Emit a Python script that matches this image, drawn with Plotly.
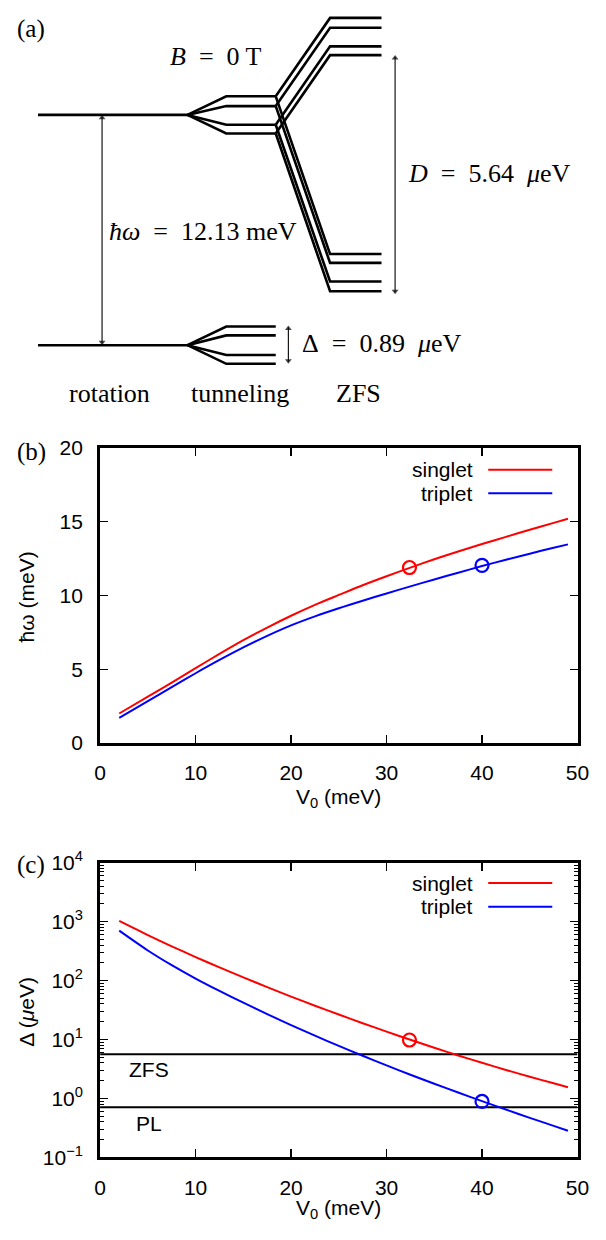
import plotly.graph_objects as go

W, H = 606, 1240

# ---------------- data ----------------
V0 = [2, 5, 7.5, 10, 12.5, 15, 17.5, 20, 22.5, 25, 27.5, 30, 32.5, 35, 37.5, 40, 42.5, 45, 47.5, 49]
singlet_hw = [2.0, 3.14, 4.10, 5.08, 6.04, 6.97, 7.83, 8.63, 9.37, 10.04, 10.70, 11.31, 11.89, 12.46,
              12.99, 13.49, 13.98, 14.46, 14.93, 15.21]
triplet_hw = [1.7, 2.84, 3.79, 4.73, 5.63, 6.48, 7.27, 7.98, 8.59, 9.14, 9.65, 10.14, 10.62, 11.09,
              11.55, 12.0, 12.43, 12.84, 13.24, 13.47]
singlet_delta = [1023, 589, 380, 250, 167, 113, 77.2, 53.4, 37.4, 26.5, 18.9, 13.6, 9.89, 7.24,
                 5.37, 4.03, 3.05, 2.34, 1.81, 1.55]
triplet_delta = [700, 323, 182, 108, 66.7, 42.1, 27.0, 17.5, 11.6, 7.78, 5.30, 3.64, 2.53, 1.78,
                 1.26, 0.90, 0.649, 0.470, 0.343, 0.284]

singlet_pt_V0, singlet_pt_hw, singlet_pt_delta = 32.4, 11.9, 9.8
triplet_pt_V0, triplet_pt_hw, triplet_pt_delta = 40.0, 12.05, 0.89

zfs_level = 5.64
pl_level = 0.71

y_ticks_log = [0.1, 1, 10, 100, 1000, 10000]
y_ticktext_log = ["10<sup>−1</sup>", "10<sup>0</sup>", "10<sup>1</sup>", "10<sup>2</sup>",
                  "10<sup>3</sup>", "10<sup>4</sup>"]

# panel (a) schematic level positions (pixel units of the hidden axis)
rot_x = [33, 187]
rot_levels = [103, 338]
tun_x = [227, 278]
tun_upper = [84, 94, 113, 122]
tun_lower = [319, 328, 348, 357]
zfs_x = [334, 387]
zfs_up = [4, 14, 33, 42]
zfs_down = [245, 254, 273, 283]

RED = "#ff0000"
BLUE = "#0000ff"
SANS = "Liberation Sans"
SERIF = "Liberation Serif"
SP = "\u2002"


def px(x):
    return x / W


def py(y):
    return 1 - y / H


fig = go.Figure()

# ---------------- panel (a) ----------------
lw = 2.6
def seg(xs, ys):
    fig.add_trace(go.Scatter(x=xs, y=ys, mode="lines", xaxis="x3", yaxis="y3",
                             line=dict(color="black", width=lw), showlegend=False,
                             hoverinfo="skip"))

for yl in rot_levels:
    seg(rot_x, [yl, yl])
for base, tl in ((rot_levels[0], tun_upper), (rot_levels[1], tun_lower)):
    for t in tl:
        seg([rot_x[1], tun_x[0], tun_x[1]], [base, t, t])
for i, t in enumerate(tun_upper):
    seg([tun_x[1], zfs_x[0], zfs_x[1]], [t, zfs_up[i], zfs_up[i]])
    seg([tun_x[1], zfs_x[0], zfs_x[1]], [t, zfs_down[i], zfs_down[i]])


def arrow2(x, y_top, y_bot):
    fig.add_trace(go.Scatter(x=[x, x], y=[y_top + 2, y_bot - 2], mode="lines", xaxis="x3", yaxis="y3",
                             line=dict(color="black", width=1.1), showlegend=False, hoverinfo="skip"))
    fig.add_trace(go.Scatter(x=[x, x], y=[y_top + 3, y_bot - 3], mode="markers", xaxis="x3", yaxis="y3",
                             marker=dict(symbol=["triangle-up", "triangle-down"], size=[6, 6],
                                         color="black", line=dict(width=0)),
                             showlegend=False, hoverinfo="skip"))

arrow2(99, rot_levels[0], rot_levels[1])
arrow2(401, zfs_up[-1], zfs_down[-1] + 3)
arrow2(291, tun_lower[0] - 1, tun_lower[-1])

annots = []
def serif_text(x, y, text, xanchor="left", size=26):
    annots.append(dict(x=px(x), y=py(y), xref="paper", yref="paper", text=text,
                       showarrow=False, xanchor=xanchor, yanchor="middle",
                       font=dict(family=SERIF, size=size, color="black")))

serif_text(9, 15, "(a)", size=25)
serif_text(216, 43, f"<i>B</i>{SP}={SP}0 T", xanchor="center")
serif_text(104, 222, f"<i>ħω</i>{SP}={SP}12.13 meV")
serif_text(412, 163, f"<i>D</i>{SP}={SP}5.64{SP}<i>μ</i>eV")
serif_text(303, 336, f"Δ{SP}={SP}0.89{SP}<i>μ</i>eV")
serif_text(107, 387, "rotation", xanchor="center")
serif_text(241, 387, "tunneling", xanchor="center")
serif_text(363, 387, "ZFS", xanchor="center")
serif_text(9, 447, "(b)", size=25)
serif_text(9, 868, "(c)", size=25)

# ---------------- panel (b) ----------------
def curve(x, y, color, xa, ya):
    fig.add_trace(go.Scatter(x=x, y=y, mode="lines", line=dict(color=color, width=2, shape="spline", smoothing=0.8),
                             xaxis=xa, yaxis=ya, showlegend=False))

def point(x, y, color, xa, ya):
    fig.add_trace(go.Scatter(x=[x], y=[y], mode="markers",
                             marker=dict(symbol="circle-open", size=13, color=color, line=dict(width=2.2)),
                             xaxis=xa, yaxis=ya, showlegend=False))

curve(V0, singlet_hw, RED, "x", "y")
curve(V0, triplet_hw, BLUE, "x", "y")
point(singlet_pt_V0, singlet_pt_hw, RED, "x", "y")
point(triplet_pt_V0, triplet_pt_hw, BLUE, "x", "y")

# ---------------- panel (c) ----------------
for lvl in (zfs_level, pl_level):
    fig.add_trace(go.Scatter(x=[0, 50], y=[lvl, lvl], mode="lines",
                             line=dict(color="black", width=2), xaxis="x2", yaxis="y2", showlegend=False))
curve(V0, singlet_delta, RED, "x2", "y2")
curve(V0, triplet_delta, BLUE, "x2", "y2")
point(singlet_pt_V0, singlet_pt_delta, RED, "x2", "y2")
point(triplet_pt_V0, triplet_pt_delta, BLUE, "x2", "y2")

def sans_text(x, y, text, xanchor="center", angle=0, size=21):
    annots.append(dict(x=px(x), y=py(y), xref="paper", yref="paper", text=text,
                       showarrow=False, xanchor=xanchor, yanchor="middle", textangle=angle,
                       font=dict(family=SANS, size=size, color="black")))

sans_text(21, 595, "ħω (meV)", angle=-90)
sans_text(343, 800, "V<sub>0</sub> (meV)")
sans_text(21, 1018, "Δ (<i>μ</i>eV)", angle=-90)
sans_text(343, 1220, "V<sub>0</sub> (meV)")
sans_text(147, 1077, "ZFS")
sans_text(147, 1132, "PL")

shapes = []
for (ys, yt) in ((465, 489), (887, 911)):
    sans_text(483, ys, "singlet", xanchor="right")
    sans_text(483, yt, "triplet", xanchor="right")
    shapes.append(dict(type="line", xref="paper", yref="paper", x0=px(497), x1=px(563),
                       y0=py(ys), y1=py(ys), line=dict(color=RED, width=2)))
    shapes.append(dict(type="line", xref="paper", yref="paper", x0=px(497), x1=px(563),
                       y0=py(yt), y1=py(yt), line=dict(color=BLUE, width=2)))

minor_vals = [m * d for d in (0.1, 1, 10, 100, 1000) for m in range(2, 10)]

tickfont = dict(family=SANS, size=21, color="black")
common_x = dict(range=[0, 50], dtick=10, tick0=0, showline=True, linewidth=3, linecolor="black",
                mirror="allticks", ticks="inside", ticklen=8, tickwidth=1.2, tickcolor="black",
                showgrid=False, zeroline=False, tickfont=tickfont, ticklabelstandoff=9,
                domain=[px(97), px(589)])
common_y = dict(showline=True, linewidth=3, linecolor="black", mirror="allticks", ticks="inside",
                ticklen=8, tickwidth=1.2, tickcolor="black", showgrid=False, zeroline=False,
                tickfont=tickfont, ticklabelstandoff=10)

fig.update_layout(
    width=W, height=H, margin=dict(l=0, r=0, t=0, b=0),
    paper_bgcolor="white", plot_bgcolor="white",
    xaxis=dict(**common_x, anchor="y"),
    yaxis=dict(**common_y, range=[0, 20], dtick=5, domain=[py(744), py(443)], anchor="x"),
    xaxis2=dict(**common_x, anchor="y2"),
    yaxis2=dict(**common_y, type="log", range=[-1, 4], tickmode="array", tickvals=y_ticks_log,
                ticktext=y_ticktext_log,
                minor=dict(ticks="inside", ticklen=4, tickwidth=1, tickcolor="black",
                           tickmode="array", tickvals=minor_vals, showgrid=False),
                domain=[py(1167), py(866)], anchor="x2"),
    xaxis3=dict(range=[0, W], visible=False, domain=[0, 1], anchor="y3", fixedrange=True),
    yaxis3=dict(range=[410, 0], visible=False, domain=[py(410), 1], anchor="x3", fixedrange=True),
    annotations=annots,
    shapes=shapes,
)

fig.write_html("out.html", config={"displayModeBar": False, "staticPlot": True},
               post_script="document.body.style.margin='0';document.body.style.overflow='hidden';")
